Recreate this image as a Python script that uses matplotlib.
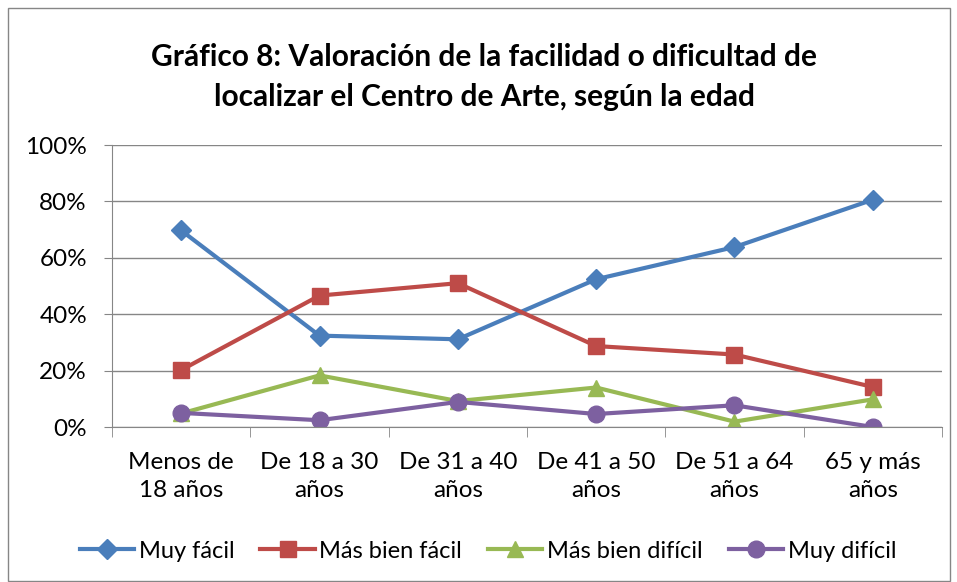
import matplotlib.pyplot as plt
import numpy as np
from matplotlib.patches import Rectangle
from matplotlib.ticker import PercentFormatter

plt.rcParams['font.family'] = ['Lato', 'DejaVu Sans']

# datos (porcentajes)
edades = ["Menos de\n18 años", "De 18 a 30\naños", "De 31 a 40\naños",
          "De 41 a 50\naños", "De 51 a 64\naños", "65 y más\naños"]
muy_facil = [69.7, 32.4, 31.1, 52.4, 63.8, 80.6]
mas_bien_facil = [20.2, 46.6, 51.0, 28.7, 25.7, 14.2]
mas_bien_dificil = [4.8, 18.3, 9.2, 14.0, 1.9, 9.8]
muy_dificil = [5.0, 2.4, 8.9, 4.6, 7.7, 0.0]

series = [
    ("Muy fácil", muy_facil, "#4A7EBB", "D", 10),
    ("Más bien fácil", mas_bien_facil, "#BE4B48", "s", 11),
    ("Más bien difícil", mas_bien_dificil, "#98B954", "^", 12),
    ("Muy difícil", muy_dificil, "#7D60A0", "o", 12),
]

fig = plt.figure(figsize=(9.57, 5.82), dpi=100)
ax = fig.add_axes([112 / 957, 1 - 427 / 582, 830 / 957, 282 / 582])

x = np.arange(len(edades))
for nombre, vals, color, marker, ms in series:
    ax.plot(x, np.array(vals) / 100, color=color, lw=3, marker=marker,
            markersize=ms, label=nombre, solid_joinstyle="round")

ax.set_xlim(-0.5, len(edades) - 0.5)
ax.set_ylim(0, 1)
ax.set_yticks(np.arange(0, 1.01, 0.2))
ax.yaxis.set_major_formatter(PercentFormatter(1.0, decimals=0))
ax.set_xticks(x)
ax.set_xticklabels(edades, linespacing=1.42)
ax.set_xticks(np.arange(-0.5, len(edades), 1), minor=True)
ax.tick_params(axis="x", which="major", length=0, pad=18, labelsize=17.5)
ax.tick_params(axis="x", which="minor", length=7, color="#868686")
ax.tick_params(axis="y", length=6, color="#868686", labelsize=17.5, pad=12)
ax.grid(axis="y", color="#868686", lw=1)
ax.set_axisbelow(True)
for s in ["top", "right"]:
    ax.spines[s].set_visible(False)
for s in ["left", "bottom"]:
    ax.spines[s].set_color("#868686")

fig.text(0.506, 1 - 77 / 582,
         "Gráfico 8: Valoración de la facilidad o dificultad de\n"
         "localizar el Centro de Arte, según la edad",
         ha="center", va="center", fontsize=21.5, fontweight="bold",
         linespacing=1.5)

fig.legend(loc="center", bbox_to_anchor=(0.51, 1 - 551 / 582), ncol=4,
           frameon=False, fontsize=17, handlelength=2.3, columnspacing=1.1,
           handletextpad=0.2)

fig.patches.append(Rectangle((8 / 957, 0.002), 942 / 957, 1 - 8 / 582 - 0.002,
                             transform=fig.transFigure, fill=False,
                             edgecolor="#868686", lw=1))

fig.savefig("out.png", dpi=100)
